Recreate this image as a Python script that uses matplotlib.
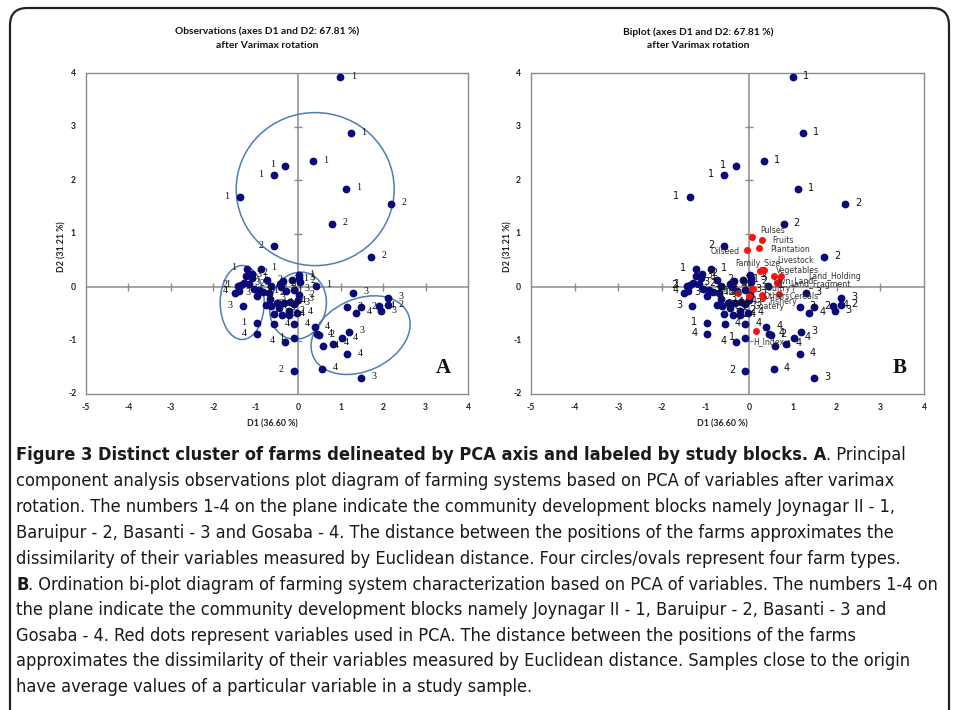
import matplotlib
matplotlib.use('Agg')
import matplotlib.pyplot as plt
from matplotlib.patches import Ellipse, FancyBboxPatch
from matplotlib.transforms import ScaledTranslation
from matplotlib import font_manager

W, H = 958, 710


def pick_font(names):
    avail = {f.name for f in font_manager.fontManager.ttflist}
    for n in names:
        if n in avail:
            return n
    return 'DejaVu Sans'


SANS = pick_font(['Lato', 'Open Sans', 'DejaVu Sans'])
SERIF = pick_font(['Liberation Serif', 'DejaVu Serif'])
has_cond = any(f.name == 'DejaVu Sans' and f.stretch == 'condensed'
               for f in font_manager.fontManager.ttflist)
CAP_STRETCH = 'condensed' if has_cond else 'normal'

# observations (farms) : D1, D2 scores and study block
obs_d1 = [0.99, 1.24, 0.34, -0.30, -0.58, -1.37, 1.12, 2.19, 0.79, -0.58, 1.72,
          0.42, 1.29, 2.11, 1.15, 1.48, 1.37, 1.91, 1.96, 2.11,
          0.39, 0.44, 0.49, 1.19, 1.03, 0.83, 0.58, 1.15, 0.56, 1.49,
          -0.09, -0.30, -0.09, -0.09, -0.56,
          -0.01, -0.09, -0.19, -0.22, -0.22, -0.38, -0.03, -0.45, -0.50, -0.66,
          -0.35, -0.14, 0.02, 0.04, 0.03, -0.44, -0.40,
          -1.31, -0.97, -0.96, -1.49, -1.21, -0.88, -1.09, -1.22, -1.10, -1.35,
          -1.42, -1.28, -0.74, -0.65, -0.97, -0.83, -0.75, -0.63, -0.92, -1.05,
          -1.40, -0.70, -1.15, -0.57, -0.33, -0.28, -0.10, 0.02]
obs_d2 = [3.92, 2.87, 2.35, 2.27, 2.09, 1.68, 1.84, 1.56, 1.18, 0.76, 0.57,
          0.02, -0.11, -0.20, -0.38, -0.38, -0.48, -0.36, -0.45, -0.34,
          -0.75, -0.88, -0.90, -0.84, -0.96, -1.06, -1.11, -1.26, -1.53, -1.70,
          -1.57, -1.02, -0.96, -0.70, -0.70,
          -0.24, -0.31, -0.28, -0.45, -0.52, -0.52, -0.48, -0.40, -0.30, -0.22,
          0.12, 0.14, 0.22, 0.10, 0.16, 0.05, 0.00,
          -0.36, -0.68, -0.88, -0.12, 0.34, 0.34, 0.25, 0.21, 0.16, 0.03,
          0.02, 0.07, 0.13, 0.02, -0.16, -0.09, -0.33, -0.36, -0.05, -0.04,
          -0.08, -0.12, 0.05, -0.50, -0.30, -0.08, -0.05, -0.15]
obs_block = ['1', '1', '1', '1', '1', '1', '1', '2', '2', '2', '2',
             '1', '3', '3', '3', '2', '4', '4', '3', '2',
             '4', '4', '2', '3', '4', '4', '4', '4', '4', '3',
             '2', '4', '1', '4', '4',
             '3', '3', '4', '2', '4', '2', '4', '3', '4', '3',
             '2', '1', '1', '2', '3', '2', '3',
             '3', '1', '4', '3', '1', '1', '2', '3', '1', '1',
             '2', '3', '2', '3', '3', '1', '2', '4', '4', '3',
             '4', '2', '2', '3', '4', '1', '3', '2']
# observations whose block number is written on the left of the dot
left_labels = [3, 4, 5, 9, 30, 31, 32, 52, 53, 54, 56, 61, 62, 72]

# variables (red dots in the biplot)
var_names = ['Pulses', 'Fruits', 'Plantation', 'Oilseed', 'Family_Size', 'Livestock',
             'Vegetables', 'Land_Holding', 'Own_Land', 'Land_Fragment', 'Poultry',
             'Tree', 'Others', 'Cereals', 'Fishery', 'Goatery', 'H_Index']
var_d1 = [0.07, 0.28, 0.21, -0.06, 0.24, 0.33, 0.57, 0.72, 0.64, 0.66, 0.08,
          -0.25, 0.32, 0.69, 0.30, 0.00, 0.15]
var_d2 = [0.93, 0.88, 0.73, 0.69, 0.29, 0.32, 0.20, 0.20, 0.07, 0.10, -0.04,
          -0.12, -0.18, -0.14, -0.15, -0.16, -0.82]
# where the variable names sit
var_lab_d1 = [0.24, 0.53, 0.49, -0.88, -0.33, 0.63, 0.61, 1.35, 0.55, 0.93, 0.32,
              -0.56, 0.32, 0.93, 0.46, 0.09, 0.10]
var_lab_d2 = [1.06, 0.87, 0.71, 0.67, 0.43, 0.50, 0.31, 0.20, 0.12, 0.04, -0.02,
              -0.11, -0.17, -0.17, -0.27, -0.37, -1.03]

# cluster outlines in panel A: centre (D1, D2), width / height in pixels, angle
ell_d1 = [0.40, -1.32, -0.005, 1.47]
ell_d2 = [1.83, -0.29, -0.35, -0.90]
ell_w = [158, 44, 56, 104]
ell_h = [153, 74, 68, 72]
ell_ang = [0, 0, -15, 25]

x_ticks = [-5, -4, -3, -2, -1, 0, 1, 2, 3, 4]
y_ticks = [-2, -1, 0, 1, 2, 3, 4]

caption = [
    [('Figure 3 Distinct cluster of farms delineated by PCA axis and labeled by study blocks. A', 'bold'),
     ('. Principal', 'normal')],
    [('component analysis observations plot diagram of farming systems based on PCA of variables after varimax', 'normal')],
    [('rotation. The numbers 1-4 on the plane indicate the community development blocks namely Joynagar II - 1,', 'normal')],
    [('Baruipur - 2, Basanti - 3 and Gosaba - 4. The distance between the positions of the farms approximates the', 'normal')],
    [('dissimilarity of their variables measured by Euclidean distance. Four circles/ovals represent four farm types.', 'normal')],
    [('B', 'bold'),
     ('. Ordination bi-plot diagram of farming system characterization based on PCA of variables. The numbers 1-4 on', 'normal')],
    [('the plane indicate the community development blocks namely Joynagar II - 1, Baruipur - 2, Basanti - 3 and', 'normal')],
    [('Gosaba - 4. Red dots represent variables used in PCA. The distance between the positions of the farms', 'normal')],
    [('approximates the dissimilarity of their variables measured by Euclidean distance. Samples close to the origin', 'normal')],
    [('have average values of a particular variable in a study sample.', 'normal')],
]
cap_y = [455, 481, 507, 533, 559, 585, 610, 636, 661, 687]

fig = plt.figure(figsize=(W / 100, H / 100), dpi=100)
fig.patch.set_facecolor('white')

# outer frame with rounded corners (open at the bottom)
frame = FancyBboxPatch((10 / W, -0.05), 939 / W, 1 - 8 / H + 0.05,
                       boxstyle='round,pad=0,rounding_size=0.018',
                       transform=fig.transFigure, fill=False,
                       edgecolor='#222222', linewidth=1.6, mutation_aspect=W / H)
fig.patches.append(frame)


def setup_axes(rect, ylab_x, xlab_x):
    ax = fig.add_axes(rect)
    ax.set_xlim(-5, 4)
    ax.set_ylim(-2, 4)
    for sp in ax.spines.values():
        sp.set_color('#8c8c8c')
        sp.set_linewidth(1.0)
    ax.set_xticks([])
    ax.set_yticks([])
    ax.axhline(0, color='#8c8c8c', lw=1.1, zorder=1)
    ax.axvline(0, color='#8c8c8c', lw=1.1, zorder=1)
    ax.plot(x_ticks[1:-1], [0] * len(x_ticks[1:-1]), ls='none', marker='|',
            ms=6, mew=1.0, color='#8c8c8c', zorder=1)
    ax.plot([0] * len(y_ticks[1:-1]), y_ticks[1:-1], ls='none', marker='_',
            ms=6, mew=1.0, color='#8c8c8c', zorder=1)
    for t in x_ticks:
        ax.annotate(str(t), (t, -2), xytext=(0, -14),
                    textcoords='offset pixels', ha='center', va='center',
                    fontsize=6.2, fontweight='bold', family=SANS, color='#222222',
                    annotation_clip=False)
    for t in y_ticks:
        ax.annotate(str(t), (-5, t), xytext=(-13, 0),
                    textcoords='offset pixels', ha='center', va='center',
                    fontsize=6.2, fontweight='bold', family=SANS, color='#222222',
                    annotation_clip=False)
    fig.text(xlab_x / W, 1 - 424 / H, 'D1 (36.60 %)', ha='center', va='center',
             fontsize=6.3, fontweight='bold', family=SANS, color='#222222')
    fig.text(ylab_x / W, 1 - 247 / H, 'D2 (31.21 %)', ha='center', va='center',
             rotation=90, fontsize=6.3, fontweight='bold', family=SANS, color='#222222')
    return ax


top = 1 - 394 / H
hgt = 321 / H

axA = setup_axes([86 / W, top, 382 / W, hgt], 62, 272)
axB = setup_axes([531 / W, top, 393 / W, hgt], 508, 722)

for tx, line1 in [(267, 'Observations (axes D1 and D2: 67.81 %)'),
                  (698, 'Biplot (axes D1 and D2: 67.81 %)')]:
    fig.text(tx / W, 1 - 32 / H, line1, ha='center', va='center', fontsize=7.4,
             fontweight='bold', family=SANS, color='#111111')
    fig.text(tx / W, 1 - 46 / H, 'after Varimax rotation', ha='center', va='center',
             fontsize=7.4, fontweight='bold', family=SANS, color='#111111')

navy = '#0a0a78'

# panel A
axA.plot(obs_d1, obs_d2, ls='none', marker='o', ms=4.6, color=navy, zorder=3)
for i, (x, y, b) in enumerate(zip(obs_d1, obs_d2, obs_block)):
    dx = -13 if i in left_labels else 13
    axA.annotate(b, (x, y), xytext=(dx, 1), textcoords='offset pixels',
                 ha='center', va='center', fontsize=7.2, family=SERIF,
                 color='#111111', zorder=4)
for cx, cy, w, h, a in zip(ell_d1, ell_d2, ell_w, ell_h, ell_ang):
    tr = fig.dpi_scale_trans + ScaledTranslation(cx, cy, axA.transData)
    axA.add_patch(Ellipse((0, 0), w / 100, h / 100, angle=a, transform=tr,
                          fill=False, edgecolor='#4f7db3', linewidth=1.1, zorder=2))
axA.text(0.955, 0.05, 'A', transform=axA.transAxes, ha='right', va='bottom',
         fontsize=15, fontweight='bold', family=SERIF, color='#111111')

# panel B
axB.plot(obs_d1, obs_d2, ls='none', marker='o', ms=4.6, color=navy, zorder=3)
for i, (x, y, b) in enumerate(zip(obs_d1, obs_d2, obs_block)):
    dx = -13 if i in left_labels else 13
    axB.annotate(b, (x, y), xytext=(dx, 1), textcoords='offset pixels',
                 ha='center', va='center', fontsize=7.0, family='DejaVu Sans',
                 color='#111111', zorder=4)
axB.plot(var_d1, var_d2, ls='none', marker='o', ms=4.0, color='#ff1010', zorder=5)
for n, lx, ly in zip(var_names, var_lab_d1, var_lab_d2):
    axB.text(lx, ly, n, ha='left', va='center', fontsize=5.6, family='DejaVu Sans',
             color='#333333', zorder=6)
axB.text(0.955, 0.05, 'B', transform=axB.transAxes, ha='right', va='bottom',
         fontsize=15, fontweight='bold', family=SERIF, color='#111111')

# caption, scaled so that the widest line fits inside the frame
renderer = fig.canvas.get_renderer()
probe = fig.text(0, 0, caption[5][1][0], fontsize=14, family='DejaVu Sans',
                 fontstretch=CAP_STRETCH)
pw = probe.get_window_extent(renderer).width
probe.remove()
cap_fs = 14 * 918 / pw

for segs, yy in zip(caption, cap_y):
    xpix = 16
    for s, wt in segs:
        t = fig.text(xpix / W, 1 - yy / H, s, ha='left', va='center',
                     fontsize=cap_fs, fontweight=wt, family='DejaVu Sans',
                     fontstretch=CAP_STRETCH, color='#1a1a1a')
        xpix += t.get_window_extent(renderer).width

fig.savefig('out.png', dpi=100, facecolor='white')
